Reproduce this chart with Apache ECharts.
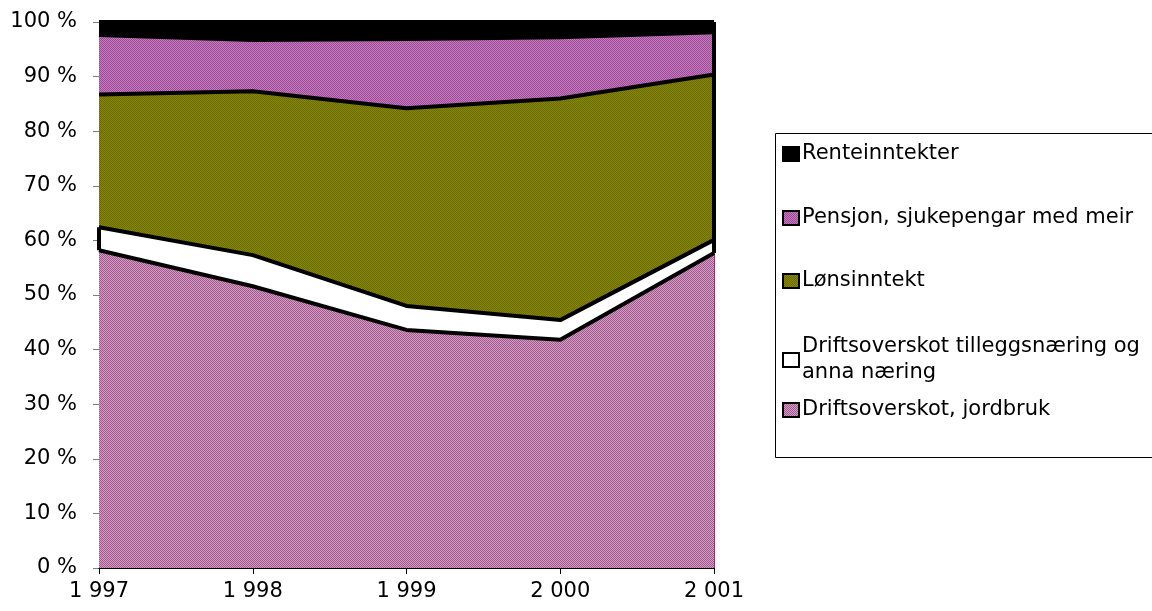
<!DOCTYPE html>
<html lang="nn">

<head>
    <meta charset="UTF-8">
    <title>Inntektsfordeling</title>
    <style>
        html, body { margin: 0; padding: 0; background: #fff; }
        #main { width: 1152px; height: 611px; }
    </style>
</head>

<body>
    <div id="main"></div>

    <script src="https://cdn.jsdelivr.net/npm/echarts@6/dist/echarts.min.js"></script>
    <script>
        // data (prosent av samla inntekt)
        var years = ['1 997', '1 998', '1 999', '2 000', '2 001'];
        var jordbruk = [58.2, 51.6, 43.6, 41.8, 57.7];
        var tillegg = [4.2, 5.7, 4.4, 3.6, 2.4];
        var lons = [24.3, 30.0, 36.2, 40.6, 30.3];
        var pensjon = [10.9, 9.4, 12.7, 11.2, 7.7];
        var rente = [2.4, 3.3, 3.1, 2.8, 1.9];
        var yTicks = [0, 10, 20, 30, 40, 50, 60, 70, 80, 90, 100];

        var names = [
            'Driftsoverskot, jordbruk',
            'Driftsoverskot tilleggsnæring og anna næring',
            'Lønsinntekt',
            'Pensjon, sjukepengar med meir',
            'Renteinntekter'
        ];

        var FONT = 'DejaVu Sans';

        // small checker patterns to mimic the excel fills
        function pattern(a, b) {
            var c = document.createElement('canvas');
            c.width = 2;
            c.height = 2;
            var ctx = c.getContext('2d');
            ctx.fillStyle = a;
            ctx.fillRect(0, 0, 2, 2);
            ctx.fillStyle = b;
            ctx.fillRect(0, 0, 1, 1);
            ctx.fillRect(1, 1, 1, 1);
            return { image: c, repeat: 'repeat' };
        }

        var fills = [
            pattern('#d49cc4', '#a05a8c'),
            '#ffffff',
            pattern('#868606', '#6c6c00'),
            pattern('#c47cbc', '#9c4a98'),
            '#000000'
        ];

        // cumulative tops, for the edge lines at the ends
        var sets = [jordbruk, tillegg, lons, pensjon, rente];
        var cum = [];
        var run = [0, 0, 0, 0, 0];
        sets.forEach(function (s) {
            run = run.map(function (v, i) { return v + s[i]; });
            cum.push(run.slice());
        });
        var last = years.length - 1;

        // filled areas
        var series = sets.map(function (s, k) {
            return {
                name: names[k],
                type: 'line',
                stack: 'area',
                data: s,
                showSymbol: false,
                symbol: 'none',
                silent: true,
                z: 2,
                lineStyle: { width: 0 },
                itemStyle: { color: fills[k], borderColor: '#000', borderWidth: 2 },
                areaStyle: { color: fills[k], opacity: 1 }
            };
        });

        // black border lines on top of the areas
        sets.forEach(function (s, k) {
            series.push({
                name: 'kant' + k,
                type: 'line',
                stack: 'edge',
                data: s,
                showSymbol: false,
                symbol: 'none',
                silent: true,
                z: 5,
                lineStyle: { color: '#000', width: 4 }
            });
        });

        series[9].markLine = {
            silent: true,
            symbol: 'none',
            label: { show: false },
            lineStyle: { color: '#000', width: 4, type: 'solid' },
            data: [
                [{ coord: [years[last], cum[0][last]] }, { coord: [years[last], 100] }],
                [{ coord: [years[0], cum[0][0]] }, { coord: [years[0], cum[1][0]] }]
            ]
        };
        series[5].markLine = {
            silent: true,
            symbol: 'none',
            label: { show: false },
            lineStyle: { color: '#993366', width: 1, type: 'solid' },
            data: [
                [{ coord: [years[last], 0] }, { coord: [years[last], cum[0][last]] }]
            ]
        };

        // one legend per row, so the gaps can follow the original
        var legendTops = [136, 200, 263, 329, 392];
        var legendOrder = [4, 3, 2, 1, 0];
        var legends = legendOrder.map(function (k, i) {
            return {
                data: [names[k]],
                left: 777,
                top: legendTops[i],
                icon: 'rect',
                itemWidth: 16,
                itemHeight: 14,
                itemGap: 0,
                selectedMode: false,
                textStyle: {
                    fontFamily: FONT,
                    fontSize: 21,
                    color: '#000',
                    padding: [0, 0, 0, -2],
                    lineHeight: 26
                },
                formatter: function (n) {
                    return n.replace(' og ', ' og\n');
                }
            };
        });

        var chart = echarts.init(document.getElementById('main'));

        var option = {
            animation: false,
            backgroundColor: '#fff',
            grid: { left: 99, right: 438, top: 22, bottom: 43 },
            legend: legends,
            graphic: [{
                type: 'rect',
                shape: { x: 775.5, y: 133.5, width: 400, height: 324 },
                style: { fill: 'none', stroke: '#000', lineWidth: 1 },
                silent: true
            }],
            xAxis: {
                type: 'category',
                data: years,
                boundaryGap: false,
                axisLine: { lineStyle: { color: '#000', width: 1 } },
                axisTick: { show: true, length: 6, lineStyle: { color: '#000' } },
                axisLabel: {
                    fontFamily: FONT,
                    fontSize: 21,
                    color: '#000',
                    margin: 13
                },
                z: 10
            },
            yAxis: {
                type: 'value',
                min: yTicks[0],
                max: yTicks[yTicks.length - 1],
                interval: yTicks[1] - yTicks[0],
                axisLine: { show: true, lineStyle: { color: '#808080' } },
                axisTick: { show: true, length: 6, lineStyle: { color: '#808080' } },
                splitLine: { show: false },
                axisLabel: {
                    fontFamily: FONT,
                    fontSize: 21,
                    color: '#000',
                    margin: 22,
                    formatter: '{value} %'
                }
            },
            series: series
        };

        chart.setOption(option);
    </script>
</body>

</html>
